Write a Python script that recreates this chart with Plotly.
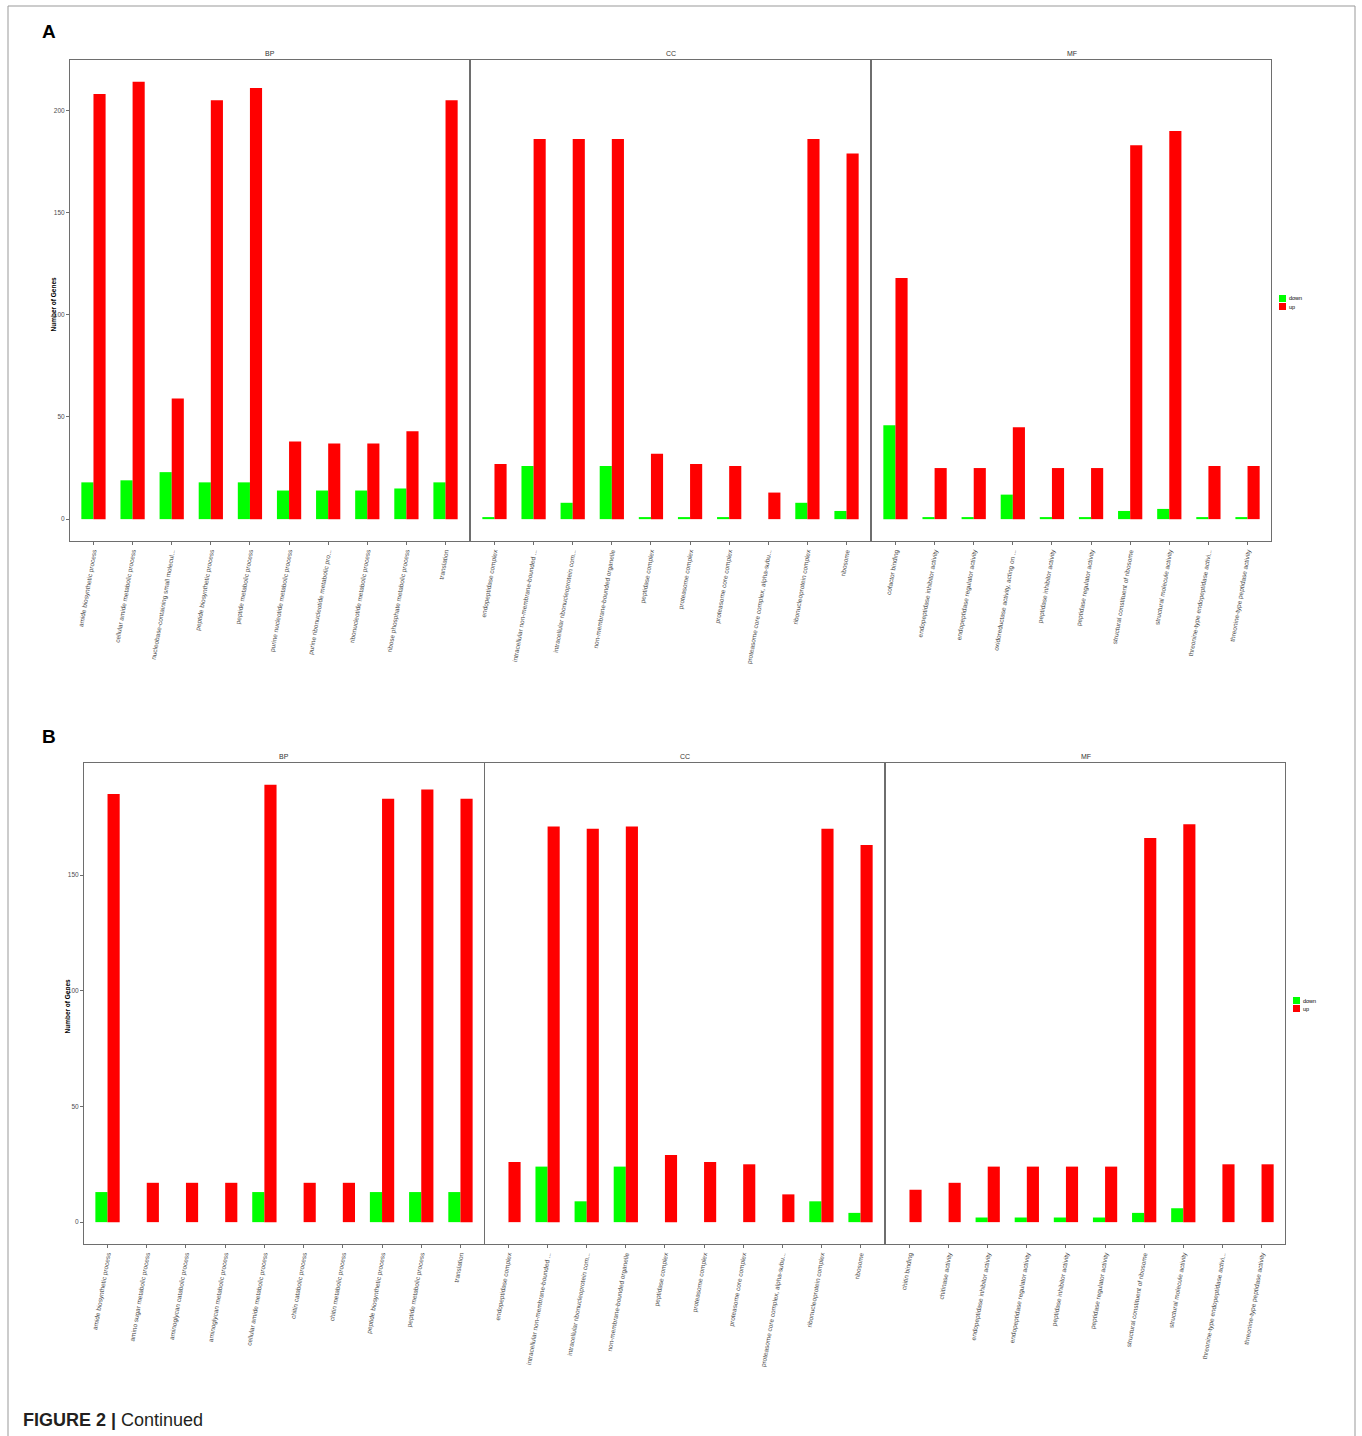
import plotly.graph_objects as go

# ---------------- data ----------------
A_BP_cats = ["amide biosynthetic process", "cellular amide metabolic process",
             "nucleobase-containing small molecul...", "peptide biosynthetic process",
             "peptide metabolic process", "purine nucleotide metabolic process",
             "purine ribonucleotide metabolic pro...", "ribonucleotide metabolic process",
             "ribose phosphate metabolic process", "translation"]
A_BP_down = [18, 19, 23, 18, 18, 14, 14, 14, 15, 18]
A_BP_up = [208, 214, 59, 205, 211, 38, 37, 37, 43, 205]

A_CC_cats = ["endopeptidase complex", "intracellular non-membrane-bounded ...",
             "intracellular ribonucleoprotein com...", "non-membrane-bounded organelle",
             "peptidase complex", "proteasome complex", "proteasome core complex",
             "proteasome core complex, alpha-subu...", "ribonucleoprotein complex", "ribosome"]
A_CC_down = [1, 26, 8, 26, 1, 1, 1, 0, 8, 4]
A_CC_up = [27, 186, 186, 186, 32, 27, 26, 13, 186, 179]

A_MF_cats = ["cofactor binding", "endopeptidase inhibitor activity",
             "endopeptidase regulator activity", "oxidoreductase activity, acting on ...",
             "peptidase inhibitor activity", "peptidase regulator activity",
             "structural constituent of ribosome", "structural molecule activity",
             "threonine-type endopeptidase activi...", "threonine-type peptidase activity"]
A_MF_down = [46, 1, 1, 12, 1, 1, 4, 5, 1, 1]
A_MF_up = [118, 25, 25, 45, 25, 25, 183, 190, 26, 26]

B_BP_cats = ["amide biosynthetic process", "amino sugar metabolic process",
             "aminoglycan catabolic process", "aminoglycan metabolic process",
             "cellular amide metabolic process", "chitin catabolic process",
             "chitin metabolic process", "peptide biosynthetic process",
             "peptide metabolic process", "translation"]
B_BP_down = [13, 0, 0, 0, 13, 0, 0, 13, 13, 13]
B_BP_up = [185, 17, 17, 17, 189, 17, 17, 183, 187, 183]

B_CC_cats = A_CC_cats
B_CC_down = [0, 24, 9, 24, 0, 0, 0, 0, 9, 4]
B_CC_up = [26, 171, 170, 171, 29, 26, 25, 12, 170, 163]

B_MF_cats = ["chitin binding", "chitinase activity", "endopeptidase inhibitor activity",
             "endopeptidase regulator activity", "peptidase inhibitor activity",
             "peptidase regulator activity", "structural constituent of ribosome",
             "structural molecule activity", "threonine-type endopeptidase activi...",
             "threonine-type peptidase activity"]
B_MF_down = [0, 0, 2, 2, 2, 2, 4, 6, 0, 0]
B_MF_up = [14, 17, 24, 24, 24, 24, 166, 172, 25, 25]

facets = ["BP", "CC", "MF"]
y_ticks = [0, 50, 100, 150, 200]
series_names = ["down", "up"]
series_colors = ["#00FF00", "#FF0000"]

panels = [
    ("A", A_BP_cats, A_BP_down, A_BP_up), ("A", A_CC_cats, A_CC_down, A_CC_up),
    ("A", A_MF_cats, A_MF_down, A_MF_up),
    ("B", B_BP_cats, B_BP_down, B_BP_up), ("B", B_CC_cats, B_CC_down, B_CC_up),
    ("B", B_MF_cats, B_MF_down, B_MF_up),
]

# ---------------- layout geometry (pixels) ----------------
W, H = 1362, 1436
def fx(p): return p / W
def fy(p): return 1 - p / H

x_px = {"A": [(70, 469), (471, 870), (872, 1271)],
        "B": [(84, 484), (485, 884), (886, 1285)]}
y_px = {"A": (60, 541), "B": (763, 1244)}
legend_px = {"A": (1279, 295), "B": (1293, 997)}

FONT = "Liberation Sans, Arial, Helvetica, sans-serif"
GREY = "#4d4d4d"
LINE = "#6e6e6e"

fig = go.Figure()
layout = {}
annotations = []
shapes = []

for i, (part, cats, down, up) in enumerate(panels):
    k = i + 1
    xa = "x" if k == 1 else f"x{k}"
    ya = "y" if k == 1 else f"y{k}"
    j = i % 3
    for name, col, vals in zip(series_names, series_colors, [down, up]):
        fig.add_trace(go.Bar(x=cats, y=vals, name=name, marker_color=col,
                             marker_line_width=0, xaxis=xa, yaxis=ya,
                             offsetgroup=name, showlegend=False))
    x0, x1 = x_px[part][j]
    y0, y1 = y_px[part]
    base = 0 if part == "A" else 3
    allvals = []
    for m in range(3):
        allvals += panels[base + m][2] + panels[base + m][3]
    ymax = max(allvals)
    pad = ymax * 0.05
    layout["xaxis" if k == 1 else f"xaxis{k}"] = dict(
        domain=[fx(x0), fx(x1)], anchor=ya, type="category",
        range=[-0.6, len(cats) - 0.4], showgrid=False, zeroline=False,
        showline=True, mirror=True, linecolor=LINE, linewidth=1,
        ticks="outside", ticklen=3, tickcolor=LINE, tickwidth=1,
        tickangle=-80, tickfont=dict(size=6.5, color=GREY, family=FONT),
        fixedrange=True)
    layout["yaxis" if k == 1 else f"yaxis{k}"] = dict(
        domain=[fy(y1), fy(y0)], anchor=xa, range=[-pad, ymax + pad],
        showgrid=False, zeroline=False, showline=True, mirror=True,
        linecolor=LINE, linewidth=1,
        tickvals=[t for t in y_ticks if t <= ymax + pad],
        ticks="outside" if j == 0 else "", ticklen=3, tickcolor=LINE,
        showticklabels=(j == 0), tickfont=dict(size=6.5, color=GREY, family=FONT),
        fixedrange=True)
    annotations.append(dict(text=facets[j], x=(fx(x0) + fx(x1)) / 2, y=fy(y0 - 1),
                            xref="paper", yref="paper", xanchor="center", yanchor="bottom",
                            showarrow=False, font=dict(size=7, color="#333333", family=FONT)))

# legends (one per figure part), built from the series names/colours
for part, (lx, ly) in legend_px.items():
    for n, (name, col) in enumerate(zip(series_names, series_colors)):
        top = ly + n * 8
        shapes.append(dict(type="rect", xref="paper", yref="paper",
                           x0=fx(lx), x1=fx(lx + 7), y0=fy(top + 7), y1=fy(top),
                           fillcolor=col, line=dict(width=0)))
        annotations.append(dict(text=name, x=fx(lx + 8), y=fy(top + 3.5),
                                xref="paper", yref="paper", xanchor="left",
                                yanchor="middle", showarrow=False,
                                font=dict(size=5.5, color="black", family=FONT)))

# y-axis titles
for part, xp in [("A", 53), ("B", 67)]:
    y0, y1 = y_px[part]
    annotations.append(dict(text="<b>Number of Genes</b>", x=fx(xp), y=fy((y0 + y1) / 2 + 3),
                            xref="paper", yref="paper", textangle=-90, showarrow=False,
                            xanchor="center", yanchor="middle",
                            font=dict(size=6.5, color="black", family=FONT)))

# panel letters and caption
annotations.append(dict(text="<b>A</b>", x=fx(40), y=fy(31), xref="paper", yref="paper",
                        xanchor="left", yanchor="middle", showarrow=False,
                        font=dict(size=19, color="black", family=FONT)))
annotations.append(dict(text="<b>B</b>", x=fx(40), y=fy(736), xref="paper", yref="paper",
                        xanchor="left", yanchor="middle", showarrow=False,
                        font=dict(size=19, color="black", family=FONT)))
annotations.append(dict(text="<b>FIGURE 2 |</b> Continued", x=fx(21), y=fy(1420),
                        xref="paper", yref="paper", xanchor="left", yanchor="middle",
                        showarrow=False, font=dict(size=18, color="#231f20", family=FONT)))

shapes.append(dict(type="rect", xref="paper", yref="paper",
                   x0=fx(8), x1=fx(1355), y0=fy(1440), y1=fy(6),
                   line=dict(color="#999999", width=1), fillcolor="rgba(0,0,0,0)"))

fig.update_layout(**layout)
fig.update_layout(
    width=W, height=H, margin=dict(l=0, r=0, t=0, b=0),
    paper_bgcolor="white", plot_bgcolor="white",
    barmode="group", bargap=0.38, bargroupgap=0,
    font=dict(family=FONT),
    showlegend=False,
    annotations=annotations,
    shapes=shapes,
)

fig.write_html("out.html", config={"displayModeBar": False},
               post_script="document.body.style.margin='0';document.body.style.overflow='hidden';")
